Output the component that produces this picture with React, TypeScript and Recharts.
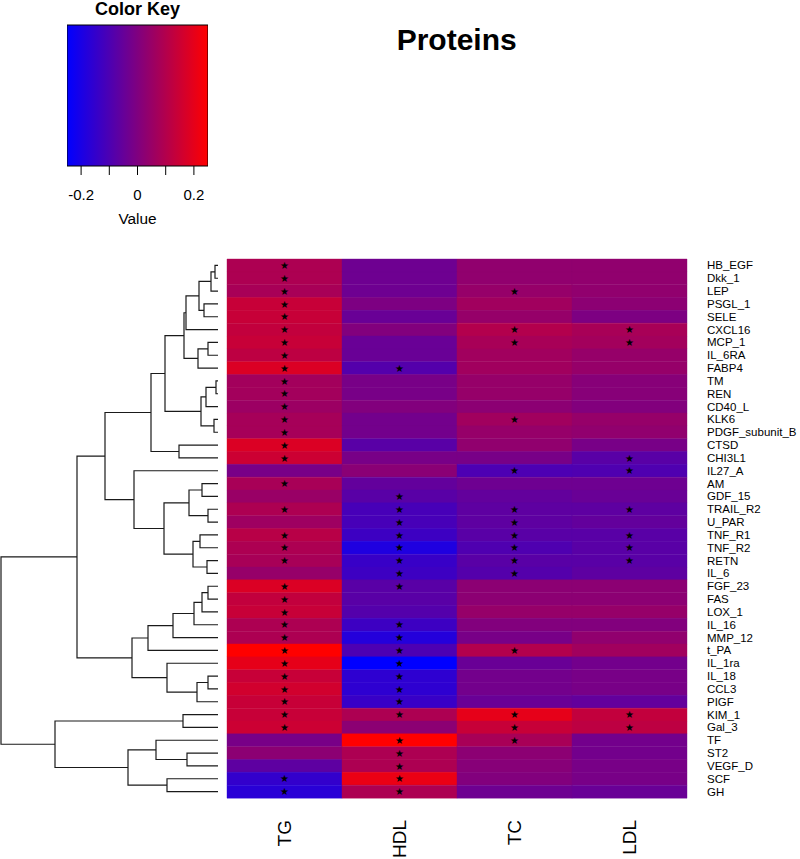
import React from 'react';
import {
  BarChart, Bar, Cell, LabelList, XAxis, YAxis,
  ScatterChart, Scatter,
} from 'recharts';

// ---------------- data ----------------
const PROTEINS = [
  'HB_EGF', 'Dkk_1', 'LEP', 'PSGL_1', 'SELE', 'CXCL16', 'MCP_1', 'IL_6RA', 'FABP4', 'TM',
  'REN', 'CD40_L', 'KLK6', 'PDGF_subunit_B', 'CTSD', 'CHI3L1', 'IL27_A', 'AM', 'GDF_15', 'TRAIL_R2',
  'U_PAR', 'TNF_R1', 'TNF_R2', 'RETN', 'IL_6', 'FGF_23', 'FAS', 'LOX_1', 'IL_16', 'MMP_12',
  't_PA', 'IL_1ra', 'IL_18', 'CCL3', 'PIGF', 'KIM_1', 'Gal_3', 'TF', 'ST2', 'VEGF_D',
  'SCF', 'GH',
];

const LIPIDS = ['TG', 'HDL', 'TC', 'LDL'];

const TG = [
  0.09, 0.09, 0.08, 0.14, 0.14, 0.13, 0.14, 0.12, 0.18, 0.07,
  0.07, 0.055, 0.075, 0.075, 0.18, 0.15, -0.015, 0.08, 0.05, 0.09,
  0.06, 0.11, 0.09, 0.08, 0.045, 0.18, 0.13, 0.14, 0.09, 0.09,
  0.25, 0.2, 0.14, 0.16, 0.14, 0.14, 0.15, -0.015, 0.025, -0.065,
  -0.15, -0.17,
];
const HDL = [
  -0.035, -0.035, -0.035, -0.005, -0.045, 0.005, -0.045, -0.045, -0.085, -0.015,
  -0.015, 0.005, -0.025, -0.025, -0.075, -0.015, 0.02, -0.055, -0.075, -0.11,
  -0.11, -0.13, -0.19, -0.14, -0.13, -0.075, -0.075, -0.085, -0.13, -0.18,
  -0.1, -0.25, -0.16, -0.16, -0.14, 0.09, 0.025, 0.25, 0.09, 0.09,
  0.21, 0.09,
];
const TC = [
  0.035, 0.035, 0.045, 0.065, 0.045, 0.1, 0.08, 0.065, 0.065, 0.045,
  0.045, 0.025, 0.065, 0.045, 0.035, -0.015, -0.1, -0.035, -0.055, -0.065,
  -0.065, -0.075, -0.095, -0.075, -0.085, 0.025, 0.025, 0.045, 0.005, -0.015,
  0.1, -0.045, -0.025, -0.025, -0.045, 0.2, 0.14, 0.08, 0.025, 0.015,
  0.005, -0.035,
];
const LDL = [
  0.035, 0.035, 0.035, 0.025, -0.005, 0.08, 0.07, 0.045, 0.045, 0.015,
  0.015, 0.005, 0.045, 0.035, -0.015, -0.075, -0.095, -0.035, -0.045, -0.065,
  -0.055, -0.075, -0.075, -0.075, -0.065, 0.025, 0.025, 0.045, 0.005, 0.035,
  0.065, -0.025, -0.015, -0.015, -0.055, 0.13, 0.12, -0.025, -0.025, -0.015,
  -0.015, -0.045,
];

// significance markers (1 = star)
const TG_SIG = [
  1, 1, 1, 1, 1, 1, 1, 1, 1, 1,
  1, 1, 1, 1, 1, 1, 0, 1, 0, 1,
  0, 1, 1, 1, 0, 1, 1, 1, 1, 1,
  1, 1, 1, 1, 1, 1, 1, 0, 0, 0,
  1, 1,
];
const HDL_SIG = [
  0, 0, 0, 0, 0, 0, 0, 0, 1, 0,
  0, 0, 0, 0, 0, 0, 0, 0, 1, 1,
  1, 1, 1, 1, 1, 1, 0, 0, 1, 1,
  1, 1, 1, 1, 1, 1, 0, 1, 1, 1,
  1, 1,
];
const TC_SIG = [
  0, 0, 1, 0, 0, 1, 1, 0, 0, 0,
  0, 0, 1, 0, 0, 0, 1, 0, 0, 1,
  1, 1, 1, 1, 1, 0, 0, 0, 0, 0,
  1, 0, 0, 0, 0, 1, 1, 1, 0, 0,
  0, 0,
];
const LDL_SIG = [
  0, 0, 0, 0, 0, 1, 1, 0, 0, 0,
  0, 0, 0, 0, 0, 1, 1, 0, 0, 1,
  0, 1, 1, 1, 0, 0, 0, 0, 0, 0,
  0, 0, 0, 0, 0, 1, 1, 0, 0, 0,
  0, 0,
];

// Row dendrogram (hclust style): negative = leaf -(row+1), positive = earlier merge (1-based)
const MERGE_A = [-1, 1, -4, 2, 4, -7, 6, 5, -10, 9, -13, 10, 8, -15, 13, -18, -20, 16, -22, -24, 19, 18, -17, 15, -26, 25, 26, 27, 28, -33, 30, -32, 29, 24, -36, -39, -38, -41, 37, 35, 34];
const MERGE_B = [-2, -3, -5, 3, -6, -8, -9, 7, -11, -12, -14, 11, 12, -16, 14, -19, -21, 17, -23, -25, 20, 21, 22, 23, -27, -28, -29, -30, -31, -34, -35, 31, 32, 33, -37, -40, 36, -42, 38, 39, 40];
const MERGE_H = [3, 7, 14, 19, 32, 10, 20, 34, 2, 12, 4, 17, 53, 39, 67, 16, 10, 29, 18, 11, 25, 54, 84, 113, 10, 16, 24, 45, 70, 10, 21, 51, 86, 141, 35, 31, 62, 51, 90, 163, 217];

const KEY_MIN = -0.25;
const KEY_MAX = 0.25;
const KEY_TICKS = [-0.2, -0.1, 0, 0.1, 0.2];
const KEY_LABELS = ['-0.2', '', '0', '', '0.2'];

// ---------------- helpers ----------------
const FONT = "'Liberation Sans', Arial, Helvetica, sans-serif";

function valueColor(v: number): string {
  let t = (v - KEY_MIN) / (KEY_MAX - KEY_MIN);
  t = Math.max(0, Math.min(1, t));
  const r = Math.round(255 * t);
  const b = Math.round(255 * (1 - t));
  return `rgb(${r},0,${b})`;
}

const STAR = '\u2605';
const COLS = [TG, HDL, TC, LDL];

const heatRows = PROTEINS.map((name, i) => ({
  name,
  u0: 1, u1: 1, u2: 1, u3: 1,
  s0: TG_SIG[i] ? STAR : '',
  s1: HDL_SIG[i] ? STAR : '',
  s2: TC_SIG[i] ? STAR : '',
  s3: LDL_SIG[i] ? STAR : '',
}));

const keyRows = [{ name: 'key', range: [KEY_MIN, KEY_MAX] }];

// dendrogram segments
function buildDendro() {
  const ny: number[] = [];
  const nh: number[] = [];
  const pos = (c: number) => (c < 0 ? { y: -c - 1, h: 0 } : { y: ny[c - 1], h: nh[c - 1] });
  const segs: { x: number; y: number }[][] = [];
  for (let k = 0; k < MERGE_A.length; k++) {
    const a = pos(MERGE_A[k]);
    const b = pos(MERGE_B[k]);
    const h = MERGE_H[k];
    ny.push((a.y + b.y) / 2);
    nh.push(h);
    segs.push([
      { x: a.h, y: a.y },
      { x: h, y: a.y },
      { x: h, y: b.y },
      { x: b.h, y: b.y },
    ]);
  }
  return segs;
}
const DENDRO = buildDendro();
const MAX_H = MERGE_H[MERGE_H.length - 1];

// ---------------- layout ----------------
const W = 800;
const H = 859;
const TOP = 259;
const BOTTOM = 798;
const LEFT = 227;
const RIGHT = 687;
const LEAF_X = 218;

const ColTick = (props: any) => {
  const { x, y, payload } = props;
  const label = LIPIDS[Math.floor(payload.value)];
  return (
    <text
      x={x}
      y={y}
      transform={`rotate(-90, ${x}, ${y})`}
      textAnchor="end"
      dominantBaseline="central"
      fontSize={19}
      fontFamily={FONT}
      fill="#000"
    >
      {label}
    </text>
  );
};

const StarLabel = (props: any) => {
  const { x, y, width, height, value } = props;
  if (!value) return null;
  return (
    <text
      x={x + width / 2}
      y={y + height / 2}
      textAnchor="middle"
      dominantBaseline="central"
      fontSize={10}
      fontFamily="'DejaVu Sans', sans-serif"
      fill="#000"
    >
      {value}
    </text>
  );
};

const noShape = () => <g />;

export default function App() {
  return (
    <div style={{ position: 'absolute', left: 0, top: 0, width: W, height: H, background: '#fff' }}>
      {/* Color key */}
      <div style={{ position: 'absolute', left: 0, top: 0 }}>
        <BarChart
          width={230}
          height={240}
          data={keyRows}
          layout="vertical"
          barCategoryGap={0}
          margin={{ top: 25, left: 67, right: 22, bottom: 0 }}
        >
          <defs>
            <linearGradient id="keyGrad" x1="0" y1="0" x2="1" y2="0">
              <stop offset="0%" stopColor={valueColor(KEY_MIN)} />
              <stop offset="100%" stopColor={valueColor(KEY_MAX)} />
            </linearGradient>
          </defs>
          <XAxis
            type="number"
            domain={[KEY_MIN, KEY_MAX]}
            allowDataOverflow
            ticks={KEY_TICKS}
            interval={0}
            height={74}
            axisLine={false}
            tickSize={9}
            tickMargin={14}
            tickLine={{ stroke: '#000', strokeWidth: 1 }}
            tick={{ fill: '#000', fontSize: 15, fontFamily: FONT }}
            tickFormatter={(v: number) => KEY_LABELS[KEY_TICKS.indexOf(v)] ?? ''}
          />
          <YAxis type="category" dataKey="name" hide width={0} />
          <Bar
            dataKey="range"
            fill="url(#keyGrad)"
            stroke="#000"
            strokeWidth={1}
            isAnimationActive={false}
          />
        </BarChart>
      </div>

      {/* Heatmap */}
      <div style={{ position: 'absolute', left: 0, top: 0 }}>
        <BarChart
          width={W}
          height={H}
          data={heatRows}
          layout="vertical"
          barCategoryGap={0}
          barGap={0}
          margin={{ top: TOP, left: LEFT, right: 0, bottom: 0 }}
        >
          <XAxis
            type="number"
            domain={[0, 4]}
            ticks={[0.5, 1.5, 2.5, 3.5]}
            interval={0}
            height={H - BOTTOM}
            axisLine={false}
            tickLine={false}
            tickSize={6}
            tickMargin={16}
            tick={<ColTick />}
          />
          <YAxis
            type="category"
            dataKey="name"
            orientation="right"
            width={W - RIGHT}
            interval={0}
            axisLine={false}
            tickLine={false}
            tickSize={6}
            tickMargin={14}
            tick={{ fill: '#000', fontSize: 11.5, fontFamily: FONT }}
          />
          {COLS.map((vals, c) => (
            <Bar key={c} dataKey={`u${c}`} stackId="heat" isAnimationActive={false}>
              {vals.map((v, i) => (
                <Cell key={i} fill={valueColor(v)} stroke={valueColor(v)} strokeWidth={0.4} />
              ))}
              <LabelList dataKey={`s${c}`} content={<StarLabel />} />
            </Bar>
          ))}
        </BarChart>
      </div>

      {/* Row dendrogram */}
      <div style={{ position: 'absolute', left: 0, top: 0 }}>
        <ScatterChart
          width={W}
          height={H}
          margin={{ top: TOP, bottom: H - BOTTOM, left: 1, right: W - LEAF_X }}
        >
          <XAxis type="number" dataKey="x" domain={[0, MAX_H]} reversed hide height={0} />
          <YAxis
            type="number"
            dataKey="y"
            domain={[-0.5, PROTEINS.length - 0.5]}
            reversed
            hide
            width={0}
          />
          {DENDRO.map((seg, k) => (
            <Scatter
              key={k}
              data={seg}
              line={{ stroke: '#1a1a1a', strokeWidth: 1.2 }}
              lineType="joint"
              shape={noShape}
              isAnimationActive={false}
              legendType="none"
            />
          ))}
        </ScatterChart>
      </div>

      {/* Titles */}
      <svg
        width={W}
        height={H}
        style={{ position: 'absolute', left: 0, top: 0, pointerEvents: 'none' }}
      >
        <text x={137.5} y={15} textAnchor="middle" fontSize={18} fontWeight="bold" fontFamily={FONT} fill="#000">
          Color Key
        </text>
        <text x={137.5} y={224} textAnchor="middle" fontSize={15.4} fontFamily={FONT} fill="#000">
          Value
        </text>
        <text x={456.7} y={50} textAnchor="middle" fontSize={30} fontWeight="bold" fontFamily={FONT} fill="#000">
          Proteins
        </text>
      </svg>
    </div>
  );
}
